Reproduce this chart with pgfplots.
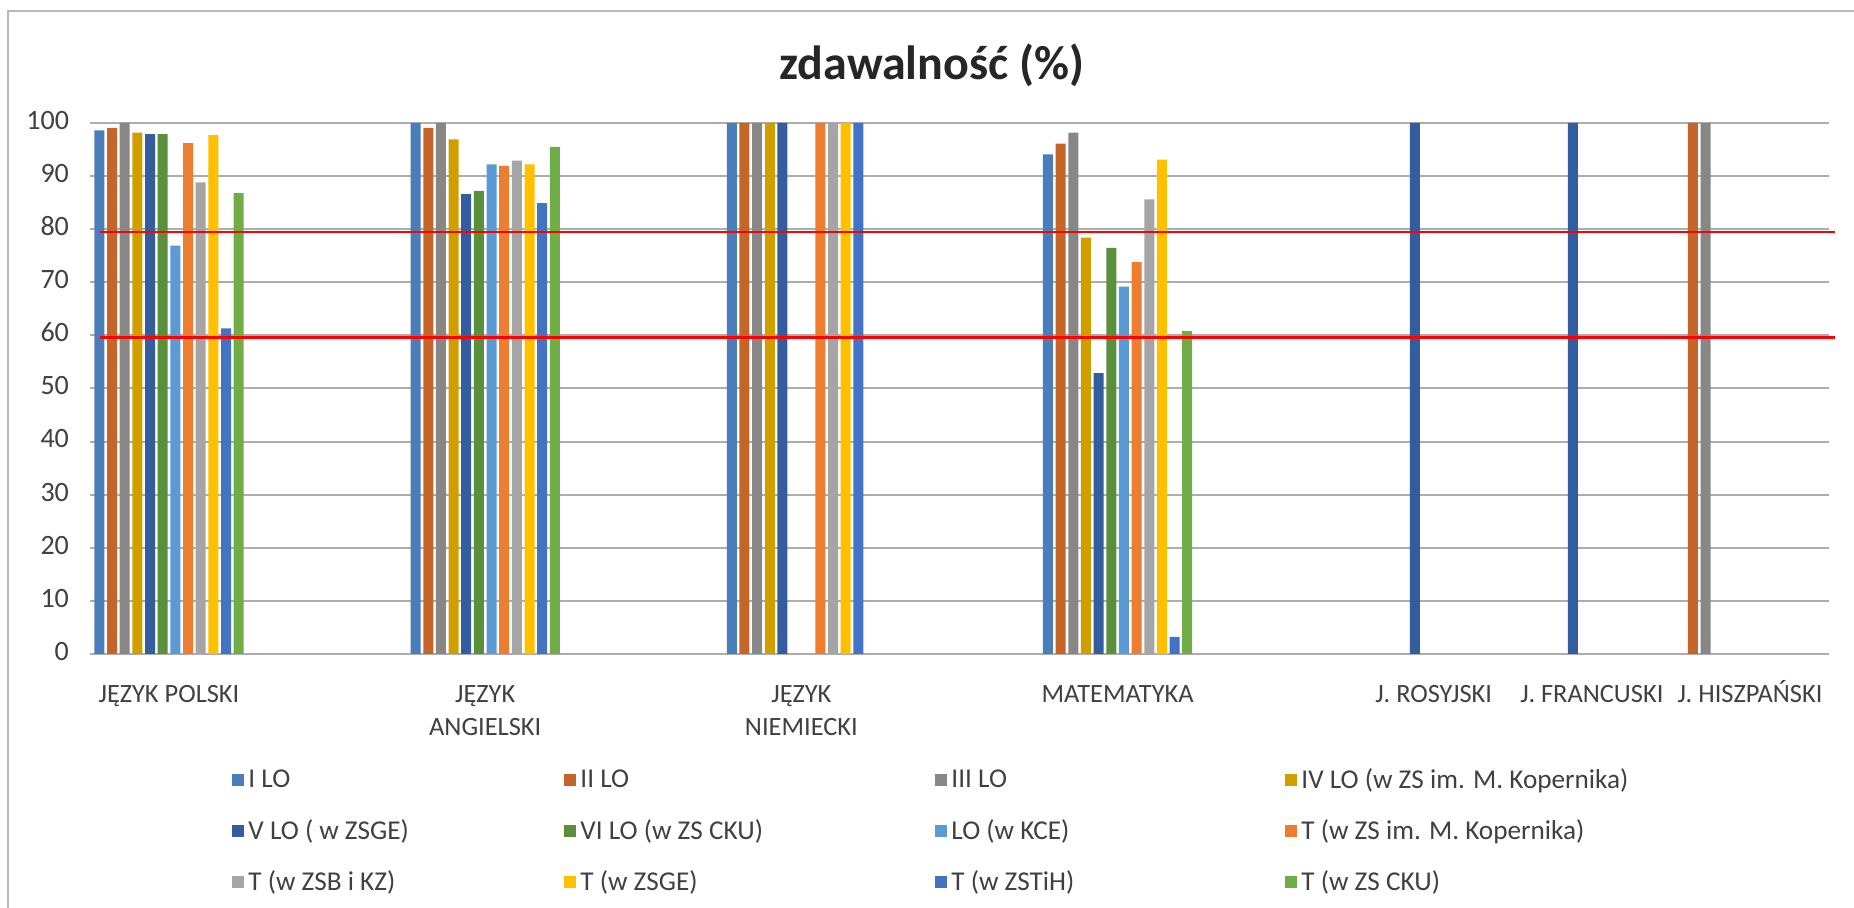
\documentclass[border=0pt]{standalone}
\usepackage{pgfplots}
\pgfplotsset{compat=1.18}
\usepackage{fontspec}
\setmainfont{Carlito}
\definecolor{c1}{HTML}{4A7EBB}
\definecolor{c2}{HTML}{C5652A}
\definecolor{c3}{HTML}{878787}
\definecolor{c4}{HTML}{D19E00}
\definecolor{c5}{HTML}{345D9F}
\definecolor{c6}{HTML}{5A8F3C}
\definecolor{c7}{HTML}{5B9BD5}
\definecolor{c8}{HTML}{ED7D31}
\definecolor{c9}{HTML}{A5A5A5}
\definecolor{c10}{HTML}{FFC000}
\definecolor{c11}{HTML}{4472C4}
\definecolor{c12}{HTML}{70AD47}
\definecolor{txt}{HTML}{404040}
\definecolor{grd}{HTML}{ADADAD}
\newcommand{\la}[1]{\makebox[160pt][l]{\hspace{2pt}#1}}
\newcommand{\lb}[1]{\makebox[179.5pt][l]{\hspace{2pt}#1}}
\newcommand{\lc}[1]{\makebox[169pt][l]{\hspace{2pt}#1}}
\newcommand{\ld}[1]{\makebox[170pt][l]{\hspace{2pt}#1}}
\begin{document}
\begin{tikzpicture}
\useasboundingbox (0,0) rectangle (927pt,454pt);
\draw[color=gray!55, line width=0.8pt] (4pt,0) -- (4pt,448.5pt) -- (927pt,448.5pt);
\node[font=\fontsize{24}{28}\selectfont\bfseries, text=black!85] at (466pt,421.5pt) {zdawalność (\%)};
\begin{axis}[
  at={(45pt,127pt)}, anchor=south west,
  width=869.5pt, height=265.5pt, scale only axis,
  xmin=-0.5, xmax=10.5, ymin=0, ymax=100,
  ybar=1.33pt, bar width=5pt,
  axis line style={draw=none}, tick style={draw=none},
  ymajorgrids, grid style={color=grd, line width=1pt},
  ytick={0,10,...,100},
  xtick={0,2,4,6,8,9,10},
  xticklabels={JĘZYK POLSKI,{JĘZYK\\ANGIELSKI},{JĘZYK\\NIEMIECKI},MATEMATYKA,J. ROSYJSKI,J. FRANCUSKI,J. HISZPAŃSKI},
  xticklabel style={align=center, font=\fontsize{13.2}{16.5}\selectfont, text=txt, anchor=north, yshift=-5pt},
  typeset ticklabels with strut,
  yticklabel style={font=\fontsize{14}{16}\selectfont, text=txt, xshift=-7pt},
  /pgf/number format/assume math mode=true,
  clip=false,
  legend columns=4,
  legend style={draw=none, at={(0.0817,-0.2147)}, anchor=north west,
    font=\fontsize{13.6}{15}\selectfont, text=txt,
    column sep=0pt, row sep=14pt, inner sep=0pt, nodes={inner sep=0pt}},
  legend image code/.code={\fill[#1] (0pt,-3pt) rectangle (6pt,3pt);},
  every axis plot/.append style={draw=none},
]
\addplot[fill=c1] coordinates {(0,98.6)(2,100)(4,100)(6,94.1)};
\addlegendentry{\la{I LO}}
\addplot[fill=c2] coordinates {(0,99.1)(2,99.1)(4,100)(6,96.1)(10,100)};
\addlegendentry{\lb{II LO}}
\addplot[fill=c3] coordinates {(0,100)(2,100)(4,100)(6,98.2)(10,100)};
\addlegendentry{\lc{III LO}}
\addplot[fill=c4] coordinates {(0,98.2)(2,96.9)(4,100)(6,78.4)};
\addlegendentry{\ld{IV LO (w ZS im. M. Kopernika)}}
\addplot[fill=c5] coordinates {(0,97.9)(2,86.6)(4,100)(6,52.9)(8,100)(9,100)};
\addlegendentry{\la{V LO ( w ZSGE)}}
\addplot[fill=c6] coordinates {(0,97.9)(2,87.2)(6,76.5)};
\addlegendentry{\lb{VI LO (w ZS CKU)}}
\addplot[fill=c7] coordinates {(0,76.9)(2,92.2)(6,69.2)};
\addlegendentry{\lc{LO (w KCE)}}
\addplot[fill=c8] coordinates {(0,96.2)(2,91.9)(4,100)(6,73.8)};
\addlegendentry{\ld{T (w ZS im. M. Kopernika)}}
\addplot[fill=c9] coordinates {(0,88.8)(2,92.9)(4,100)(6,85.6)};
\addlegendentry{\la{T (w ZSB i KZ)}}
\addplot[fill=c10] coordinates {(0,97.7)(2,92.2)(4,100)(6,93.1)};
\addlegendentry{\lb{T (w ZSGE)}}
\addplot[fill=c11] coordinates {(0,61.3)(2,84.9)(4,100)(6,3.2)};
\addlegendentry{\lc{T (w ZSTiH)}}
\addplot[fill=c12] coordinates {(0,86.8)(2,95.5)(6,60.8)};
\addlegendentry{\ld{T (w ZS CKU)}}
\draw[red, line width=1.2pt] (axis cs:-0.437,79.5) -- (axis cs:10.54,79.5);
\draw[red, line width=1.2pt] (axis cs:-0.437,59.6) -- (axis cs:10.54,59.6);
\end{axis}
\end{tikzpicture}
\end{document}
